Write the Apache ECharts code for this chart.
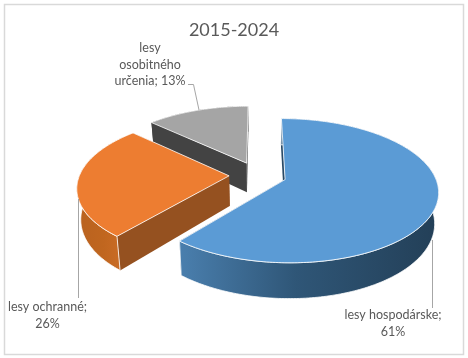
<!DOCTYPE html>
<html>
<head>
<meta charset="utf-8">
<style>html,body{margin:0;padding:0;background:#fff}#chart{width:468px;height:358px}</style>
<script src="https://cdn.jsdelivr.net/npm/echarts@6/dist/echarts.min.js"></script>
</head>
<body>
<div id="chart"></div>
<script>
var titleText = '2015-2024';
var categories = ['lesy hospodárske', 'lesy ochranné', 'lesy osobitného určenia'];
var values = [61, 26, 13];
// how each label wraps
var labelLines = [
  function (c, v) { return c + ';\n' + v + '%'; },
  function (c, v) { return c + ';\n' + v + '%'; },
  function (c, v) { return 'lesy\nosobitného\nurčenia; ' + v + '%'; }
];

var topColors = ['#5b9bd5', '#ed7d31', '#a5a5a5'];
var innerWallColors = ['#2a4a66', '#955120', '#434343'];
var outerWallStops = [
  ['#4a7fae', '#2f5677', '#233f57'],
  ['#b9621f', '#c0661f', '#d2702a'],
  ['#434343', '#434343', '#434343']
];
var outerWallStroke = ['#fff', '#fff', null]; // gray's outer wall sits behind its own top
var paintOrder = [3, 2, 1]; // far slices first

// fake 3D projection, fitted by eye to the excel perspective pie
var CX = 257.8, CY = 175, R = 149.5, K = 0.4615, P = 0.153;
var EXPLODE = 0.192, DEPTH = 30, SHRINK = 0.978;

var total = values.reduce(function (a, b) { return a + b; }, 0);

function project(X, Z) {
  var s = 1 / (1 - P * Z);
  return [CX + R * X * s, CY + K * R * Z * s, s];
}
function lower(p) {
  return [CX + (p[0] - CX) * SHRINK, p[1] + DEPTH * p[2]];
}
function pt2(p) { return [p[0], p[1]]; }

function renderSlice(params, api) {
  var i = params.dataIndex;
  var before = 0;
  for (var n = 0; n < i; n++) before += values[n];
  var a0 = before / total * Math.PI * 2;
  var a1 = (before + api.value(0)) / total * Math.PI * 2;
  var mid = (a0 + a1) / 2;
  var ox = EXPLODE * Math.sin(mid), oz = -EXPLODE * Math.cos(mid);

  var rim = [];
  var steps = Math.ceil((a1 - a0) / (Math.PI / 180));
  for (var k = 0; k <= steps; k++) {
    var a = a0 + (a1 - a0) * k / steps;
    rim.push(project(ox + Math.sin(a), oz - Math.cos(a)));
  }
  var apex = project(ox, oz);
  var rimLow = rim.map(lower);
  var apexLow = lower(apex);

  var base = paintOrder[i] * 10;
  var topPts = [pt2(apex)].concat(rim.map(pt2));
  var outerPts = rim.map(pt2).concat(rimLow.slice().reverse());
  var stops = outerWallStops[i];

  return {
    type: 'group',
    children: [
      {
        type: 'polygon', z2: base + 1,
        shape: { points: [pt2(apex), pt2(rim[rim.length - 1]), rimLow[rimLow.length - 1], apexLow] },
        style: { fill: innerWallColors[i] }
      },
      {
        type: 'polygon', z2: base + 2,
        shape: { points: [pt2(apex), pt2(rim[0]), rimLow[0], apexLow] },
        style: { fill: innerWallColors[i] }
      },
      {
        type: 'polygon', z2: base + 3,
        shape: { points: outerPts },
        style: {
          fill: new echarts.graphic.LinearGradient(0, 0, 1, 0, [
            { offset: 0, color: stops[0] },
            { offset: 0.45, color: stops[1] },
            { offset: 1, color: stops[2] }
          ]),
          stroke: outerWallStroke[i], lineWidth: 0.8
        }
      },
      {
        type: 'polygon', z2: base + 4,
        shape: { points: topPts },
        style: { fill: topColors[i], stroke: '#fff', lineWidth: 0.8 }
      }
    ]
  };
}

function labelGraphic(i, x, y) {
  return {
    type: 'text', x: x, y: y, z: 10,
    style: {
      text: labelLines[i](categories[i], values[i]),
      font: '12.5px Lato', fill: '#595959', align: 'center', verticalAlign: 'top', lineHeight: 16.5
    }
  };
}
function leader(points) {
  return {
    type: 'polyline', z: 10,
    shape: { points: points },
    style: { stroke: '#a6a6a6', lineWidth: 1, fill: null }
  };
}

var chart = echarts.init(document.getElementById('chart'), null, { renderer: 'canvas' });
chart.setOption({
  animation: false,
  backgroundColor: '#fff',
  title: {
    text: titleText, left: 'center', top: 16,
    textStyle: { fontFamily: 'Lato', fontSize: 18, fontWeight: 'normal', color: '#595959' }
  },
  graphic: [
    { type: 'rect', shape: { x: 4.5, y: 4.5, width: 459, height: 350 }, style: { fill: null, stroke: '#d9d9d9', lineWidth: 1.5 }, z: 0 },
    leader([[188, 84.5], [193.5, 84.5], [199, 110]]),
    leader([[78.5, 199], [78.5, 298]]),
    leader([[432.5, 240], [432.5, 308]]),
    labelGraphic(2, 150, 40),
    labelGraphic(1, 47.5, 299),
    labelGraphic(0, 393, 307)
  ],
  series: [{
    type: 'custom',
    coordinateSystem: 'none',
    silent: true,
    data: values,
    renderItem: renderSlice
  }]
});
</script>
</body>
</html>
